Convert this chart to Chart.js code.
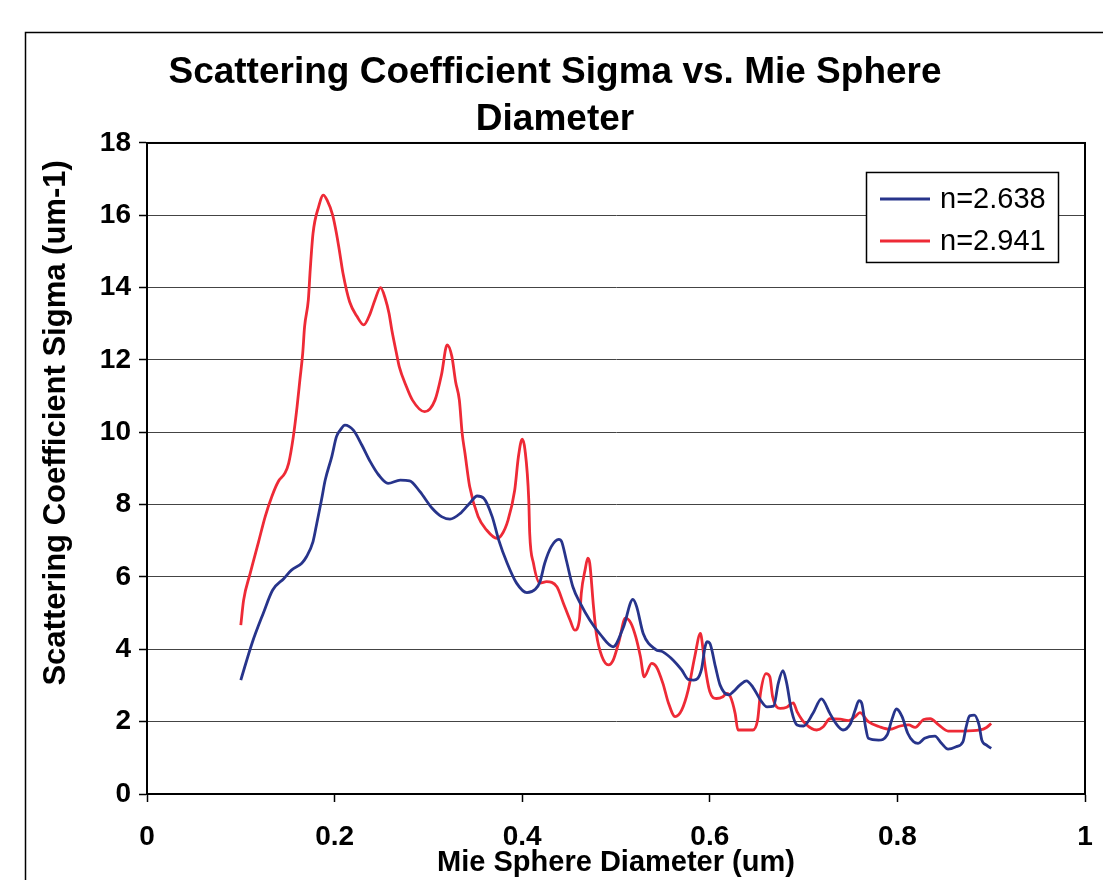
<!DOCTYPE html>
<html>
<head>
<meta charset="utf-8">
<title>Scattering Coefficient Sigma vs. Mie Sphere Diameter</title>
<script src="https://cdn.jsdelivr.net/npm/chart.js@4.4.1/dist/chart.umd.min.js"></script>
<style>
    html, body { margin: 0; padding: 0; background: #fff; }
    #wrap { width: 1103px; height: 880px; }
</style>
</head>
<body>
<div id="wrap"><canvas id="sigmaChart" width="1103" height="880"></canvas></div>
<script>
// Series n=2.638 (blue)
const diameterBlue = [0.100, 0.112, 0.124, 0.134, 0.146, 0.154, 0.165, 0.170, 0.177, 0.181, 0.186, 0.190, 0.197, 0.202, 0.206, 0.211,
    0.220, 0.229, 0.238, 0.247, 0.257, 0.270, 0.280, 0.291, 0.304, 0.314, 0.323, 0.334, 0.344, 0.352, 0.359, 0.368, 0.375, 0.384,
    0.394, 0.405, 0.414, 0.419, 0.424, 0.431, 0.439, 0.442, 0.447, 0.454, 0.462, 0.472, 0.483, 0.497, 0.508, 0.518, 0.522, 0.529,
    0.542, 0.550, 0.561, 0.570, 0.577, 0.583, 0.591, 0.595, 0.597, 0.600, 0.606, 0.611, 0.620, 0.625, 0.632, 0.639, 0.646, 0.654,
    0.661, 0.668, 0.673, 0.678, 0.682, 0.687, 0.693, 0.700, 0.710, 0.719, 0.728, 0.735, 0.742, 0.750, 0.755, 0.759, 0.762, 0.766,
    0.769, 0.780, 0.789, 0.794, 0.799, 0.805, 0.811, 0.817, 0.822, 0.829, 0.840, 0.847, 0.854, 0.863, 0.870, 0.873, 0.877, 0.882,
    0.887, 0.890, 0.895, 0.900];
const sigmaBlue = [3.15, 4.17, 5.00, 5.64, 5.96, 6.19, 6.38, 6.56, 6.98, 7.48, 8.13, 8.68, 9.33, 9.88, 10.06, 10.20,
    10.06, 9.65, 9.19, 8.82, 8.59, 8.68, 8.66, 8.36, 7.90, 7.67, 7.60, 7.76, 8.04, 8.24, 8.18, 7.67, 7.02, 6.38,
    5.83, 5.57, 5.66, 5.87, 6.38, 6.84, 7.04, 6.98, 6.47, 5.73, 5.27, 4.81, 4.42, 4.07, 4.62, 5.38, 5.18, 4.44,
    4.00, 3.93, 3.70, 3.43, 3.17, 3.15, 3.43, 4.07, 4.21, 4.17, 3.52, 3.01, 2.74, 2.83, 3.01, 3.13, 2.95, 2.60,
    2.41, 2.43, 3.06, 3.41, 3.06, 2.32, 1.91, 1.88, 2.23, 2.63, 2.23, 1.93, 1.77, 1.95, 2.32, 2.58, 2.51, 1.86,
    1.54, 1.49, 1.63, 2.05, 2.35, 2.14, 1.68, 1.45, 1.40, 1.54, 1.60, 1.40, 1.24, 1.31, 1.45, 1.82, 2.16, 2.18,
    1.91, 1.49, 1.35, 1.26];

// Series n=2.941 (red)
const diameterRed = [0.100, 0.103, 0.110, 0.119, 0.126, 0.133, 0.140, 0.147, 0.151, 0.156, 0.160, 0.163, 0.166, 0.168, 0.172, 0.174,
    0.177, 0.183, 0.188, 0.192, 0.198, 0.202, 0.205, 0.209, 0.216, 0.224, 0.231, 0.238, 0.243, 0.249, 0.254, 0.258, 0.261, 0.266,
    0.269, 0.276, 0.283, 0.296, 0.307, 0.314, 0.320, 0.325, 0.329, 0.333, 0.336, 0.339, 0.344, 0.353, 0.362, 0.373, 0.378, 0.385,
    0.392, 0.396, 0.400, 0.403, 0.407, 0.408, 0.412, 0.419, 0.426, 0.437, 0.444, 0.451, 0.456, 0.461, 0.463, 0.467, 0.470, 0.472,
    0.476, 0.479, 0.485, 0.492, 0.497, 0.503, 0.510, 0.516, 0.521, 0.526, 0.530, 0.538, 0.543, 0.550, 0.556, 0.563, 0.570, 0.577,
    0.584, 0.590, 0.591, 0.595, 0.600, 0.607, 0.614, 0.618, 0.622, 0.627, 0.630, 0.646, 0.651, 0.654, 0.660, 0.664, 0.667, 0.675,
    0.682, 0.689, 0.693, 0.702, 0.714, 0.721, 0.728, 0.739, 0.748, 0.755, 0.760, 0.769, 0.781, 0.792, 0.803, 0.812, 0.819, 0.828,
    0.835, 0.844, 0.854, 0.870, 0.888, 0.895, 0.900];
const sigmaRed = [4.67, 5.36, 6.10, 6.98, 7.67, 8.22, 8.64, 8.87, 9.14, 9.88, 10.71, 11.45, 12.18, 12.92, 13.66, 14.49,
    15.50, 16.24, 16.56, 16.42, 16.00, 15.50, 15.04, 14.39, 13.61, 13.20, 12.97, 13.29, 13.66, 14.00, 13.70, 13.29, 12.83, 12.18,
    11.81, 11.30, 10.89, 10.57, 10.89, 11.60, 12.42, 12.10, 11.40, 10.89, 9.97, 9.42, 8.50, 7.67, 7.30, 7.07, 7.16, 7.58,
    8.40, 9.33, 9.81, 9.51, 8.13, 7.21, 6.38, 5.83, 5.87, 5.73, 5.27, 4.81, 4.53, 4.81, 5.55, 6.19, 6.52, 6.38,
    5.18, 4.44, 3.80, 3.57, 3.70, 4.20, 4.86, 4.72, 4.35, 3.80, 3.24, 3.61, 3.52, 3.06, 2.51, 2.14, 2.32, 2.88,
    3.80, 4.44, 4.35, 3.52, 2.83, 2.64, 2.69, 2.78, 2.69, 2.23, 1.77, 1.77, 2.05, 2.78, 3.33, 3.24, 2.69, 2.37,
    2.40, 2.52, 2.28, 1.94, 1.77, 1.86, 2.08, 2.07, 2.03, 2.14, 2.25, 2.00, 1.86, 1.79, 1.88, 1.91, 1.84, 2.06,
    2.08, 1.91, 1.74, 1.74, 1.77, 1.84, 1.95];

const seriesLabels = ['n=2.638', 'n=2.941'];
const xTickStep = 0.2;
const yTickStep = 2;

function toPoints(xs, ys) {
    return xs.map(function(x, i) { return { x: x, y: ys[i] }; });
}

const fontFamily = '"Liberation Sans", Arial, Helvetica, sans-serif';

// white page, outer chart frame and plot border
const framePlugin = {
    id: 'frame',
    beforeDraw: function(chart) {
        const ctx = chart.ctx;
        ctx.save();
        ctx.fillStyle = '#fff';
        ctx.fillRect(0, 0, chart.width, chart.height);
        ctx.strokeStyle = '#000';
        ctx.lineWidth = 1.5;
        ctx.strokeRect(25.5, 32.5, 1400, 1200);
        ctx.restore();
    },
    afterDraw: function(chart) {
        const a = chart.chartArea;
        const ctx = chart.ctx;
        ctx.save();
        ctx.strokeStyle = '#000';
        ctx.lineWidth = 2;
        ctx.strokeRect(a.left, a.top, a.right - a.left, a.bottom - a.top);
        ctx.restore();
    }
};

// boxed legend in the upper right of the plot
const boxLegendPlugin = {
    id: 'boxLegend',
    afterDraw: function(chart) {
        const ctx = chart.ctx;
        const a = chart.chartArea;
        const x = a.right - 219, y = a.top + 29, w = 192, h = 90;
        ctx.save();
        ctx.fillStyle = '#fff';
        ctx.fillRect(x, y, w, h);
        ctx.strokeStyle = '#000';
        ctx.lineWidth = 1.5;
        ctx.strokeRect(x + 0.5, y + 0.5, w, h);
        chart.data.datasets.forEach(function(ds, i) {
            const cy = y + 27 + i * 42;
            ctx.strokeStyle = ds.borderColor;
            ctx.lineWidth = ds.borderWidth;
            ctx.beginPath();
            ctx.moveTo(x + 14, cy);
            ctx.lineTo(x + 64, cy);
            ctx.stroke();
            ctx.fillStyle = '#000';
            ctx.font = '29px ' + fontFamily;
            ctx.textBaseline = 'middle';
            ctx.textAlign = 'left';
            ctx.fillText(ds.label, x + 74, cy + 1);
        });
        ctx.restore();
    }
};

const ctx = document.getElementById('sigmaChart').getContext('2d');
const sigmaChart = new Chart(ctx, {
    type: 'line',
    data: {
        datasets: [{
            label: seriesLabels[0],
            data: toPoints(diameterBlue, sigmaBlue),
            borderColor: '#27348B',
            borderWidth: 2.8,
            pointRadius: 0,
            fill: false,
            cubicInterpolationMode: 'monotone'
        }, {
            label: seriesLabels[1],
            data: toPoints(diameterRed, sigmaRed),
            borderColor: '#EE2A36',
            borderWidth: 2.8,
            pointRadius: 0,
            fill: false,
            cubicInterpolationMode: 'monotone'
        }]
    },
    options: {
        responsive: false,
        animation: false,
        layout: { padding: { left: 25, right: 18, top: 0, bottom: 0 } },
        plugins: {
            legend: { display: false },
            tooltip: { enabled: false },
            title: {
                display: true,
                text: ['Scattering Coefficient Sigma vs. Mie Sphere', 'Diameter'],
                color: '#000',
                font: { family: fontFamily, size: 37, weight: 'bold', lineHeight: 1.27 },
                padding: { top: 49, bottom: 0 }
            }
        },
        scales: {
            x: {
                type: 'linear',
                min: 0,
                max: 1,
                ticks: {
                    stepSize: xTickStep,
                    color: '#000',
                    padding: 18,
                    maxRotation: 0,
                    font: { family: fontFamily, size: 28, weight: 'bold' },
                    callback: function(value) { return String(Math.round(value * 10) / 10); }
                },
                grid: { drawOnChartArea: false, tickLength: 8, tickColor: '#000', tickWidth: 1.5 },
                border: { color: '#000', width: 2 },
                title: {
                    display: true,
                    text: 'Mie Sphere Diameter (um)',
                    color: '#000',
                    font: { family: fontFamily, size: 29, weight: 'bold', lineHeight: 1.2 },
                    padding: { top: 0, bottom: 0 }
                },
                afterFit: function(scale) {
                    scale.height = 86;
                    scale.paddingLeft = 0;
                    scale.paddingRight = 0;
                }
            },
            y: {
                min: 0,
                max: 18,
                ticks: {
                    stepSize: yTickStep,
                    color: '#000',
                    padding: 8,
                    font: { family: fontFamily, size: 28, weight: 'bold' }
                },
                grid: { color: '#444', lineWidth: 1, tickLength: 8, tickColor: '#000', tickWidth: 1.5 },
                border: { color: '#000', width: 2 },
                title: {
                    display: true,
                    align: 'end',
                    text: 'Scattering Coefficient Sigma (um-1)  ',
                    color: '#000',
                    font: { family: fontFamily, size: 31, weight: 'bold', lineHeight: 1.2 },
                    padding: { top: 13, bottom: 0 }
                },
                afterFit: function(scale) { scale.width = 122; }
            }
        }
    },
    plugins: [framePlugin, boxLegendPlugin]
});
</script>
</body>
</html>
